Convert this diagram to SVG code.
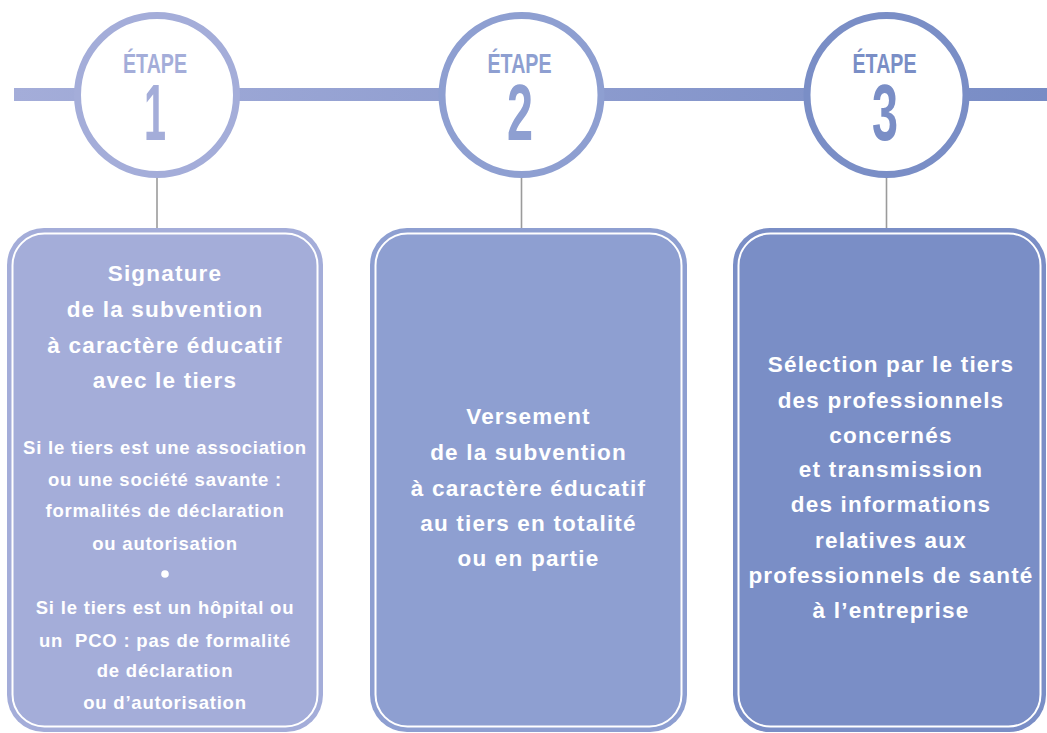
<svg xmlns="http://www.w3.org/2000/svg" width="1047" height="733" viewBox="0 0 1047 733">
  <defs>
    <linearGradient id="barGrad" x1="0" y1="0" x2="1" y2="0">
      <stop offset="0" stop-color="#a4add9"/>
      <stop offset="1" stop-color="#788cc5"/>
    </linearGradient>
    <style>
      .ring { fill: #ffffff; stroke-width: 7; }
      .etape { font-family: "Liberation Sans", "DejaVu Sans", sans-serif; font-size: 28px; font-weight: bold; text-anchor: middle; }
      .num { font-family: "Liberation Sans", "DejaVu Sans", sans-serif; font-size: 79px; font-weight: bold; text-anchor: middle; }
      .stem { stroke: #9b9b9b; stroke-width: 1.6; fill: none; }
      .inner { fill: none; stroke: #ffffff; stroke-width: 2; }
      .title { font-family: "Liberation Sans", "DejaVu Sans", sans-serif; font-size: 22.5px; font-weight: bold; fill: #ffffff; text-anchor: middle; letter-spacing: 1.2px; }
      .small { font-family: "Liberation Sans", "DejaVu Sans", sans-serif; font-size: 18.5px; font-weight: bold; fill: #ffffff; text-anchor: middle; letter-spacing: 0.8px; }
    </style>
  </defs>

  <!-- timeline bar -->
  <rect x="14" y="88" width="1033" height="13" fill="url(#barGrad)"/>

  <!-- connectors from step circles down to boxes -->
  <g id="connectors">
    <line class="stem" x1="157" y1="178" x2="157" y2="229"/>
    <line class="stem" x1="521.5" y1="178" x2="521.5" y2="229"/>
    <line class="stem" x1="886.5" y1="178" x2="886.5" y2="229"/>
  </g>

  <!-- step markers -->
  <g id="step1">
    <circle class="ring" cx="157" cy="95" r="79.5" stroke="#a4add9"/>
    <text class="etape" x="155" y="73" fill="#a4add9" textLength="64" lengthAdjust="spacingAndGlyphs">ÉTAPE</text>
    <text class="num" x="155" y="140" fill="#a4add9" textLength="22" lengthAdjust="spacingAndGlyphs">1</text>
  </g>
  <g id="step2">
    <circle class="ring" cx="521.5" cy="95" r="79.5" stroke="#8e9fd1"/>
    <text class="etape" x="519.5" y="73" fill="#8e9fd1" textLength="64" lengthAdjust="spacingAndGlyphs">ÉTAPE</text>
    <text class="num" x="520" y="140" fill="#8e9fd1" textLength="26" lengthAdjust="spacingAndGlyphs">2</text>
  </g>
  <g id="step3">
    <circle class="ring" cx="886.5" cy="95" r="79.5" stroke="#7a8ec6"/>
    <text class="etape" x="884.5" y="73" fill="#7a8ec6" textLength="64" lengthAdjust="spacingAndGlyphs">ÉTAPE</text>
    <text class="num" x="885" y="140" fill="#7a8ec6" textLength="26" lengthAdjust="spacingAndGlyphs">3</text>
  </g>

  <!-- step boxes -->
  <g id="box1">
    <rect x="7" y="228" width="316" height="504" rx="37" fill="#a4add9"/>
    <rect class="inner" x="12.5" y="233.5" width="305" height="493" rx="32"/>
    <text class="title" x="165" y="281">Signature</text>
    <text class="title" x="165" y="317">de la subvention</text>
    <text class="title" x="165" y="353">à caractère éducatif</text>
    <text class="title" x="165" y="388">avec le tiers</text>
    <text class="small" x="165" y="454">Si le tiers est une association</text>
    <text class="small" x="165" y="486">ou une société savante :</text>
    <text class="small" x="165" y="517">formalités de déclaration</text>
    <text class="small" x="165" y="550">ou autorisation</text>
    <circle cx="165" cy="574" r="3.8" fill="#ffffff"/>
    <text class="small" x="165" y="614">Si le tiers est un hôpital ou</text>
    <text class="small" x="165" y="647" xml:space="preserve">un  PCO : pas de formalité</text>
    <text class="small" x="165" y="677">de déclaration</text>
    <text class="small" x="165" y="709">ou d’autorisation</text>
  </g>

  <g id="box2">
    <rect x="370" y="228" width="317" height="504" rx="37" fill="#8e9fd1"/>
    <rect class="inner" x="375.5" y="233.5" width="306" height="493" rx="32"/>
    <text class="title" x="528.5" y="424">Versement</text>
    <text class="title" x="528.5" y="460">de la subvention</text>
    <text class="title" x="528.5" y="496">à caractère éducatif</text>
    <text class="title" x="528.5" y="531">au tiers en totalité</text>
    <text class="title" x="528.5" y="566">ou en partie</text>
  </g>

  <g id="box3">
    <rect x="733" y="228" width="313" height="504" rx="37" fill="#7a8ec6"/>
    <rect class="inner" x="738.5" y="233.5" width="302" height="493" rx="32"/>
    <text class="title" x="891" y="372">Sélection par le tiers</text>
    <text class="title" x="891" y="408">des professionnels</text>
    <text class="title" x="891" y="443">concernés</text>
    <text class="title" x="891" y="477">et transmission</text>
    <text class="title" x="891" y="512">des informations</text>
    <text class="title" x="891" y="548">relatives aux</text>
    <text class="title" x="891" y="583">professionnels de santé</text>
    <text class="title" x="891" y="618">à l’entreprise</text>
  </g>
</svg>
